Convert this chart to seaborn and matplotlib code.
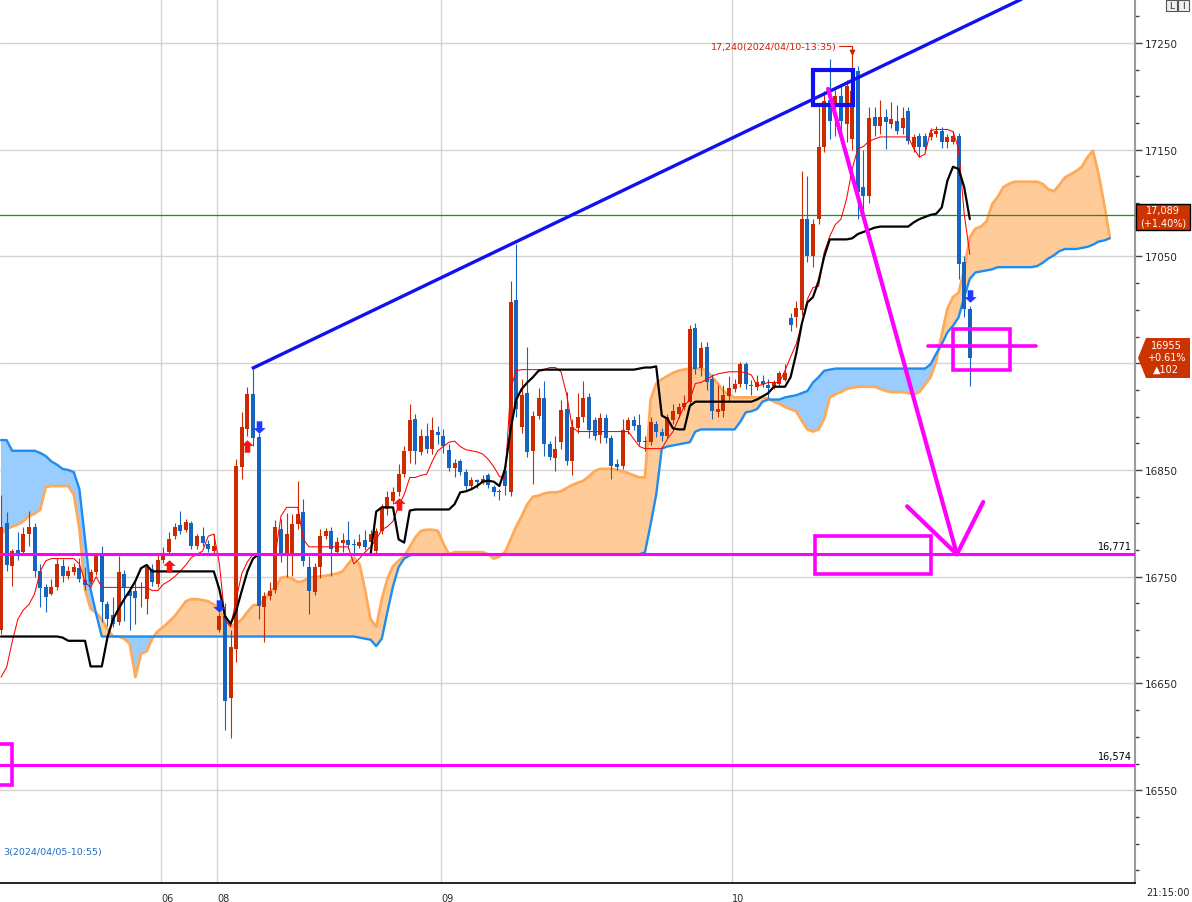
import numpy as np
import matplotlib
matplotlib.use("Agg")
import matplotlib.pyplot as plt
import seaborn as sns
from matplotlib.patches import Rectangle, Polygon

# -----------------------------
# DATA: candles (one per bar)
# -----------------------------
opens = [16700,16800,16760,16775,16773,16790,16797,16755,16740,16734,
16740,16760,16751,16754,16758,16747,16745,16754,16769,16724,
16714,16708,16753,16737,16737,16739,16729,16757,16743,16766,
16773,16788,16798,16794,16800,16779,16788,16781,16774,16700,
16713,16636,16682,16853,16888,16921,16881,16722,16732,16738,
16795,16769,16770,16799,16811,16759,16736,16759,16788,16793,
16773,16782,16784,16781,16779,16784,16783,16774,16793,16813,
16821,16829,16846,16868,16898,16867,16882,16870,16886,16882,
16869,16852,16858,16848,16835,16841,16839,16845,16834,16830,
16849,16829,17009,16890,16922,16868,16901,16917,16874,16861,
16876,16907,16858,16889,16900,16918,16897,16883,16899,16880,
16856,16854,16887,16897,16892,16876,16876,16893,16886,16882,
16897,16902,16909,16914,16983,16946,16965,16935,16904,16905,
16919,16926,16931,16949,16930,16928,16933,16930,16929,16931,
16934,16992,16993,17000,17085,17050,17085,17153,17197,17191,
17200,17174,17160,17224,17115,17107,17181,17172,17181,17174,
17177,17170,17186,17153,17163,17163,17162,17165,17168,17157,
17157,17163,17045,17001]

highs = [16827,16811,16776,16792,16797,16812,16800,16762,16743,16748,
16768,16767,16760,16763,16768,16759,16757,16772,16779,16727,
16731,16769,16756,16739,16745,16745,16762,16762,16770,16778,
16792,16800,16812,16804,16802,16790,16797,16784,16790,16716,
16725,16700,16860,16904,16928,16945,16885,16736,16745,16803,
16804,16810,16809,16840,16823,16769,16763,16795,16796,16797,
16787,16791,16802,16785,16790,16794,16794,16796,16818,16830,
16834,16856,16872,16912,16902,16888,16894,16900,16891,16888,
16874,16860,16860,16851,16843,16842,16845,16847,16836,16832,
16852,17027,17062,16935,16965,16905,16927,16933,16877,16882,
16916,16923,16898,16922,16933,16922,16900,16903,16902,16883,
16860,16898,16900,16901,16902,16882,16900,16896,16889,16902,
16912,16913,16920,16986,16988,16970,16970,16940,16930,16930,
16938,16935,16951,16951,16934,16939,16939,16935,16934,16943,
16949,16997,17008,17130,17125,17085,17190,17205,17235,17206,
17210,17215,17240,17228,17150,17190,17190,17197,17188,17195,
17192,17190,17190,17165,17166,17166,17170,17172,17171,17165,
17168,17166,17050,17004]

lows = [16696,16755,16741,16766,16770,16779,16750,16722,16717,16733,
16738,16745,16748,16752,16745,16738,16743,16752,16708,16704,
16703,16705,16709,16700,16706,16722,16715,16741,16740,16763,
16770,16785,16790,16792,16776,16776,16779,16773,16772,16698,
16606,16599,16670,16842,16882,16872,16710,16689,16728,16735,
16764,16750,16751,16795,16760,16715,16733,16749,16785,16751,
16770,16773,16776,16771,16777,16775,16781,16770,16790,16808,
16818,16826,16843,16857,16856,16864,16866,16865,16874,16866,
16849,16843,16845,16832,16833,16833,16837,16833,16826,16822,
16827,16826,16900,16885,16862,16837,16898,16863,16859,16849,
16870,16855,16845,16885,16895,16880,16878,16875,16875,16842,
16850,16851,16884,16887,16873,16868,16873,16881,16877,16880,
16893,16899,16906,16911,16940,16938,16925,16898,16900,16900,
16915,16923,16928,16926,16920,16925,16928,16917,16926,16928,
16933,16980,16984,16995,17045,17040,17080,17148,17160,17163,
17160,17157,17150,17085,17083,17100,17163,17165,17151,17170,
17165,17165,17155,17148,17143,17150,17159,17162,17152,17152,
17155,17029,16993,16929]

closes = [16797,16761,16774,16771,16790,16797,16755,16739,16731,16740,
16762,16751,16755,16759,16748,16742,16754,16769,16726,16710,
16706,16754,16739,16732,16730,16740,16759,16745,16766,16770,
16785,16797,16793,16801,16779,16788,16782,16776,16779,16713,
16634,16684,16854,16890,16921,16880,16723,16732,16737,16797,
16769,16790,16799,16809,16765,16737,16759,16788,16793,16776,
16783,16784,16780,16780,16783,16778,16790,16793,16815,16825,
16829,16846,16868,16897,16868,16882,16870,16887,16883,16872,
16852,16857,16848,16835,16841,16839,16842,16836,16829,16829,
16835,17007,16907,16920,16867,16901,16917,16874,16862,16870,
16906,16858,16890,16900,16917,16887,16882,16899,16880,16854,
16853,16887,16897,16891,16876,16876,16895,16886,16882,16900,
16905,16909,16913,16982,16945,16964,16932,16905,16907,16920,
16927,16931,16949,16931,16929,16932,16931,16927,16932,16941,
16941,16986,17002,17085,17050,17080,17153,17196,17177,17200,
17177,17210,17205,17110,17107,17180,17172,17181,17176,17179,
17168,17180,17158,17162,17153,17153,17166,17168,17157,17162,
17163,17043,17001,16955]

# -----------------------------
# DATA: ichimoku lines
# -----------------------------
tenkan = [16656,16665,16689,16710,16719,16724,16734,16755,16765,16767,
16767,16767,16767,16767,16762,16745,16740,16750,16740,16740,
16740,16740,16740,16740,16740,16740,16740,16737,16737,16743,
16746,16750,16755,16761,16768,16771,16774,16788,16790,16762,
16710,16703,16729,16753,16764,16771,16771,16771,16771,16771,
16807,16815,16815,16815,16785,16778,16778,16778,16778,16778,
16778,16778,16778,16762,16767,16773,16778,16785,16794,16797,
16802,16816,16827,16843,16843,16845,16846,16858,16868,16872,
16876,16877,16872,16869,16868,16867,16865,16860,16853,16844,
16842,16926,16943,16944,16944,16944,16944,16944,16946,16946,
16942,16921,16890,16886,16886,16886,16886,16886,16886,16886,
16886,16886,16886,16879,16872,16870,16870,16870,16870,16879,
16886,16898,16910,16916,16931,16932,16935,16938,16940,16941,
16942,16942,16942,16941,16939,16929,16930,16932,16932,16932,
16943,16956,16968,16987,17010,17021,17022,17054,17069,17080,
17085,17104,17132,17151,17153,17158,17160,17162,17162,17162,
17162,17162,17162,17151,17143,17146,17168,17169,17169,17169,
17167,17151,17090,17052]

kijun = [16694,16694,16694,16694,16694,16694,16694,16694,16694,16694,
16694,16693,16690,16690,16690,16690,16666,16666,16666,16693,
16710,16720,16729,16737,16746,16758,16761,16755,16755,16755,
16755,16755,16755,16755,16755,16755,16755,16755,16755,16738,
16713,16706,16718,16737,16755,16767,16771,16771,16771,16771,
16771,16771,16771,16771,16771,16771,16771,16771,16771,16771,
16771,16771,16771,16771,16771,16771,16771,16811,16815,16815,
16815,16785,16782,16812,16813,16813,16813,16813,16813,16813,
16813,16818,16829,16830,16832,16835,16839,16840,16839,16835,
16851,16888,16916,16926,16932,16937,16943,16944,16944,16944,
16944,16944,16944,16944,16944,16944,16944,16944,16944,16944,
16944,16944,16944,16944,16945,16946,16946,16947,16901,16898,
16889,16888,16888,16910,16914,16914,16914,16914,16914,16914,
16914,16914,16914,16914,16914,16916,16919,16922,16928,16928,
16928,16937,16959,16987,17007,17012,17027,17050,17066,17066,
17066,17066,17067,17071,17073,17075,17077,17078,17078,17078,
17078,17078,17078,17082,17085,17087,17089,17090,17096,17121,
17134,17132,17115,17085]

span_a = [16790,16795,16797,16799,16802,16807,16809,16813,16834,16835,
16835,16835,16835,16827,16795,16738,16720,16716,16710,16701,
16694,16694,16692,16687,16656,16678,16680,16692,16699,16703,
16708,16713,16720,16727,16729,16729,16728,16727,16724,16719,
16710,16704,16706,16710,16717,16723,16724,16728,16736,16740,
16749,16750,16748,16745,16746,16749,16750,16750,16751,16752,
16753,16755,16762,16768,16762,16738,16710,16703,16729,16748,
16760,16765,16769,16778,16787,16793,16794,16794,16793,16781,
16771,16773,16773,16773,16773,16773,16773,16771,16767,16769,
16773,16785,16797,16807,16818,16825,16826,16828,16829,16829,
16830,16833,16836,16838,16840,16844,16849,16851,16851,16851,
16850,16849,16847,16845,16843,16843,16916,16931,16935,16938,
16941,16943,16944,16945,16945,16945,16943,16937,16931,16924,
16920,16918,16918,16918,16918,16918,16918,16917,16914,16912,
16909,16907,16905,16896,16888,16886,16888,16898,16918,16921,
16923,16926,16927,16928,16928,16928,16928,16926,16924,16923,
16923,16923,16922,16921,16923,16930,16937,16952,16977,17001,
17012,17016,17038,17068,17076,17078,17083,17099,17106,17115,
17118,17120,17120,17120,17120,17120,17118,17113,17111,17117,
17124,17127,17130,17134,17143,17149,17127,17099,17068]

span_b = [16878,16878,16868,16868,16868,16868,16868,16866,16863,16858,
16855,16851,16850,16848,16832,16785,16738,16715,16694,16694,
16694,16694,16694,16694,16694,16694,16694,16694,16694,16694,
16694,16694,16694,16694,16694,16694,16694,16694,16694,16694,
16694,16694,16694,16694,16694,16694,16694,16694,16694,16694,
16694,16694,16694,16694,16694,16694,16694,16694,16694,16694,
16694,16694,16694,16694,16693,16692,16691,16685,16692,16717,
16741,16759,16767,16770,16771,16771,16771,16771,16771,16771,
16771,16771,16771,16771,16771,16771,16771,16771,16771,16771,
16771,16771,16771,16771,16771,16771,16771,16771,16771,16771,
16771,16771,16771,16771,16771,16771,16771,16771,16771,16771,
16771,16771,16771,16771,16771,16773,16799,16827,16870,16872,
16873,16874,16875,16876,16886,16888,16888,16888,16888,16888,
16888,16888,16895,16904,16905,16907,16914,16916,16916,16916,
16918,16919,16920,16922,16924,16932,16937,16943,16944,16945,
16945,16945,16945,16945,16945,16945,16945,16945,16945,16945,
16945,16945,16945,16945,16945,16945,16949,16959,16968,16979,
16985,16993,17012,17029,17035,17036,17037,17038,17040,17040,
17040,17040,17040,17040,17040,17041,17044,17048,17051,17055,
17057,17057,17057,17058,17059,17061,17064,17065,17067]

# -----------------------------
# DATA: axis labels, signals, drawings
# -----------------------------
date_labels = ["06", "08", "09", "10"]
date_start_bars = [29, 39, 79, 131]
price_ticks = [16550, 16650, 16750, 16850, 16950, 17050, 17150, 17250]
price_tick_labels = ["16550", "16650", "16750", "16850", "", "17050", "17150", "17250"]

buy_bars = [30, 44, 71]
buy_prices = [16760, 16872, 16818]
sell_bars = [39, 46, 173]
sell_prices = [16723, 16890, 17013]

support_levels = [16771, 16574]
support_labels = ["16,771", "16,574"]
ref_price = 17089
last_price = 16955

trend_bars = [44.8, 185.0]
trend_prices = [16945, 17298]
magenta_boxes = [(145.4, 166.1, 16753, 16788), (170.0, 180.2, 16944, 16982), (-1.2, 1.97, 16555, 16593)]
blue_box = (145.0, 152.1, 17192, 17225)
short_line_bars = [165.5, 184.8]
short_line_price = 16966
arrow_bars = [147.7, 170.7]
arrow_prices = [17207, 16771]
arrow_head_bars = [161.8, 170.7, 175.4]
arrow_head_prices = [16816, 16771, 16820]

high_text = "17,240(2024/04/10-13:35)"
high_bar, high_price = 152, 17240
low_text = "3(2024/04/05-10:55)"   # left part of the low label is off the chart
low_price = 16493

# -----------------------------
# FIGURE
# -----------------------------
sns.set_style("white")
plt.rcParams['font.family'] = ['DejaVu Sans']

W, H = 1192, 903
fig = plt.figure(figsize=(W / 100, H / 100), dpi=100, facecolor='white')
ax = fig.add_axes([0, 19 / H, 1135 / W, 884 / H])

idx = np.arange(len(opens))
cidx = np.arange(len(span_a))
a = np.array(span_a)
b = np.array(span_b)

# cloud
ax.fill_between(cidx, a, b, where=a >= b, interpolate=True, color='#ffcc99', lw=0, zorder=1)
ax.fill_between(cidx, a, b, where=a < b, interpolate=True, color='#99ccff', lw=0, zorder=1)
sns.lineplot(x=cidx, y=a, ax=ax, color='#ffaa5a', lw=2.0, zorder=2)
sns.lineplot(x=cidx, y=b, ax=ax, color='#1e8cf0', lw=1.7, zorder=2)

# candles
o = np.array(opens); c = np.array(closes)
hi = np.array(highs); lo = np.array(lows)
cols = np.where(c >= o, '#cc2a00', '#1565c0')
ax.vlines(idx, lo, hi, colors=cols, lw=0.8, zorder=4)
ax.bar(idx, np.maximum(np.abs(c - o), 0.9), bottom=np.minimum(o, c), width=0.72,
       color=cols, lw=0, zorder=4)

# tenkan / kijun
sns.lineplot(x=idx, y=tenkan, ax=ax, color='#ff0000', lw=0.75, zorder=5)
sns.lineplot(x=idx, y=kijun, ax=ax, color='black', lw=1.6, zorder=5)

# signals
up_arrow = [(0, 1), (-1, 0.1), (-0.45, 0.1), (-0.45, -1), (0.45, -1), (0.45, 0.1), (1, 0.1), (0, 1)]
down_arrow = [(x, -y) for x, y in up_arrow]
ax.scatter(buy_bars, buy_prices, marker=up_arrow, s=80, color='#ff1010', lw=0, zorder=6)
ax.scatter(sell_bars, sell_prices, marker=down_arrow, s=80, color='#1a3cff', lw=0, zorder=6)

# reference line
ax.axhline(ref_price, color='#139613', lw=0.9, zorder=3)

# drawings
for lvl, lab in zip(support_levels, support_labels):
    ax.axhline(lvl, color='#ff00ff', lw=2.2, zorder=7)
    ax.text(202.0, lvl + 3, lab, ha='right', va='bottom', fontsize=7, color='black', zorder=8)

ax.plot(trend_bars, trend_prices, color='#1010f0', lw=2.4, zorder=7, solid_capstyle='butt')
for x0, x1, y0, y1 in magenta_boxes:
    ax.add_patch(Rectangle((x0, y0), x1 - x0, y1 - y0, fill=False, ec='#ff00ff', lw=2.6, zorder=7))
bx0, bx1, by0, by1 = blue_box
ax.add_patch(Rectangle((bx0, by0), bx1 - bx0, by1 - by0, fill=False, ec='#1010f0', lw=3.0, zorder=7))
ax.plot(short_line_bars, [short_line_price] * 2, color='#ff00ff', lw=2.6, zorder=7)
ax.plot(arrow_bars, arrow_prices, color='#ff00ff', lw=3.0, zorder=7)
ax.plot(arrow_head_bars, arrow_head_prices, color='#ff00ff', lw=3.0, zorder=7)

# high / low labels
ax.text(high_bar - 2.7, high_price + 7, high_text, ha='right', va='center', fontsize=6.8,
        color='#d02000', zorder=8)
ax.plot([high_bar - 2.4, high_bar, high_bar], [high_price + 7, high_price + 7, high_price + 2],
        color='#d02000', lw=0.8, zorder=8)
ax.scatter([high_bar], [high_price + 2], marker='v', s=10, color='#d02000', zorder=8)
ax.text(0.4, low_price, low_text, ha='left', va='center', fontsize=6.8, color='#1e6ec8', zorder=8)

# -----------------------------
# AXES
# -----------------------------
ax.set_xlim(-0.18, 202.5)
ax.set_ylim(16463.1, 17291.2)
ax.set_xlabel('')
ax.set_ylabel('')

ax.yaxis.tick_right()
ax.set_yticks(price_ticks)
ax.set_yticklabels(price_tick_labels)
ax.set_yticks(np.arange(16475, 17291, 25), minor=True)
ax.tick_params(axis='y', which='major', length=5, width=1, direction='out', labelsize=7.5,
               pad=2, color='#444444')
ax.tick_params(axis='y', which='minor', length=3, width=1, direction='out', color='#444444')

ax.set_xticks([d - 0.4 for d in date_start_bars])
ax.set_xticklabels(date_labels)
ax.tick_params(axis='x', length=6, width=1, direction='out', labelsize=7, pad=1, color='black')
for t in ax.get_xticklabels():
    t.set_ha('left')

ax.grid(True, which='major', color='#d4d4d4', lw=1)
ax.set_axisbelow(True)

for s in ['left', 'top']:
    ax.spines[s].set_visible(False)
ax.spines['bottom'].set_color('black')
ax.spines['bottom'].set_linewidth(1.2)
ax.spines['right'].set_color('#9a9a9a')
ax.spines['right'].set_linewidth(1.5)

# -----------------------------
# RIGHT SIDE TAGS
# -----------------------------
def fx(px):
    return px / W

def fy(py):
    return 1 - py / H

fig.patches.append(Rectangle((fx(1136), fy(231)), 54 / W, 26 / H, transform=fig.transFigure,
                             fc='#cc3300', ec='black', lw=1, zorder=5))
fig.text(fx(1163), fy(211), "17,089", color='white', fontsize=7, ha='center', va='center', zorder=6)
fig.text(fx(1163), fy(224), "(+1.40%)", color='white', fontsize=7, ha='center', va='center', zorder=6)

tag_pts = [(fx(1146), fy(339)), (fx(1190), fy(339)), (fx(1190), fy(379)),
           (fx(1146), fy(379)), (fx(1138), fy(359))]
fig.patches.append(Polygon(tag_pts, closed=True, transform=fig.transFigure,
                           fc='#cc3300', ec='none', zorder=5))
fig.text(fx(1166), fy(346), str(last_price), color='white', fontsize=7, ha='center', va='center', zorder=6)
fig.text(fx(1166), fy(358), "+0.61%", color='white', fontsize=7, ha='center', va='center', zorder=6)
fig.text(fx(1166), fy(370), "\u25b2102", color='white', fontsize=7, ha='center', va='center', zorder=6)

# top-right buttons and time
for bxp, lab in [(1166, "L"), (1178, "I")]:
    fig.patches.append(Rectangle((fx(bxp), fy(12)), 11 / W, 11 / H, transform=fig.transFigure,
                                 fc='#f0f0f0', ec='#555555', lw=0.8, zorder=5))
    fig.text(fx(bxp + 5.5), fy(6.5), lab, fontsize=6.5, ha='center', va='center', zorder=6)
fig.text(fx(1190), fy(893), "21:15:00", fontsize=7, ha='right', va='center')

fig.savefig("out.png", dpi=100, facecolor='white')
